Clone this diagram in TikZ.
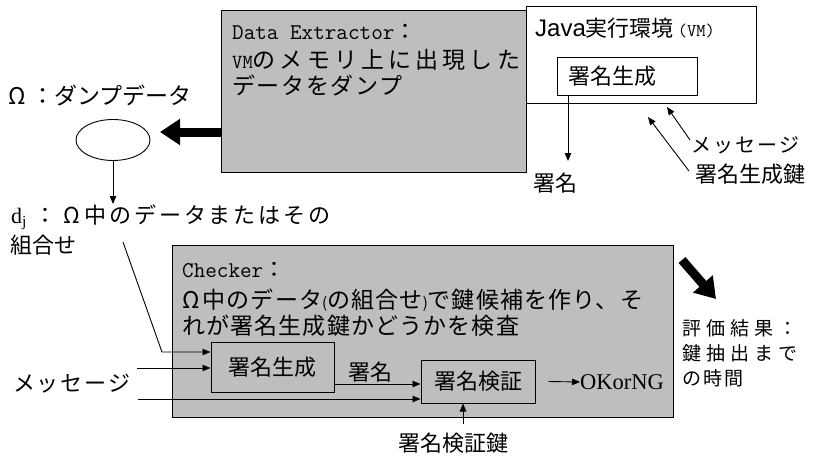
\documentclass[tikz,border=0pt]{standalone}
\usepackage{fontspec}
\setmainfont{Liberation Sans}
\newfontfamily\jp{Noto Sans CJK JP}
\newfontfamily\rmser{Liberation Serif}
\usetikzlibrary{arrows.meta,shapes.geometric}
\definecolor{boxgray}{RGB}{190,190,190}
\newcommand{\jsp}[1]{\hspace{#1}}
\tikzset{
  jt/.style={font=\jp\fontsize{22}{24}\selectfont, inner sep=0pt, anchor=west},
  jc/.style={font=\jp\fontsize{22}{24}\selectfont, inner sep=0pt},
  graybox/.style={draw=black, line width=1pt, fill=boxgray, inner sep=0pt, anchor=north west},
  wbox/.style={draw=black, line width=1pt, fill=white, inner sep=0pt, anchor=north west},
  arr/.style={line width=0.9pt, -{Triangle[length=8pt,width=6.5pt]}},
  fatarrow/.style={line width=9pt, -{Triangle[length=20pt,width=25pt]}},
}
\begin{document}
\begin{tikzpicture}[x=1pt,y=-1pt]
\useasboundingbox[fill=white] (0,0) rectangle (833,458);

% ---- top: Data Extractor and Java VM
\node[graybox, minimum width=305pt, minimum height=162pt] (de) at (221,10) {};
\node[wbox, minimum width=230pt, minimum height=97pt] (java) at (526,6) {};

\node[jt, font=\ttfamily\fontsize{22.5}{24}\selectfont] (detitle) at (232,32) {Data Extractor{\jp\fontsize{22}{24}\selectfont ：}};
\node[jt, font=\jp\fontsize{23}{26}\selectfont\addfontfeature{LetterSpace=18}] (de2) at (232,60) {{\ttfamily\fontsize{20}{20}\selectfont VM}のメモリ上に出現した};
\node[jt, font=\jp\fontsize{23}{26}\selectfont\addfontfeature{LetterSpace=7}] (de3) at (232,85) {データをダンプ};

\node[jt, font=\fontsize{24}{26}\selectfont] (javat) at (535,28) {Java{\jp\fontsize{22}{24}\selectfont 実行環境}\,{\ttfamily\fontsize{18}{18}\selectfont (VM)}};
\node[draw=black, line width=1pt, fill=white, inner xsep=11pt, inner ysep=0pt, text width=118pt, minimum height=38pt, align=left, font=\jp\fontsize{22}{24}\selectfont] (gen1) at (627,76) {署名生成};

\node[jc] (sig1) at (555,183) {署名};
\coordinate (s1t) at (568,161);
\draw[arr] (s1t |- gen1.south) -- (s1t);

\node[jc, font=\jp\fontsize{20}{24}\selectfont] (msg1) at (745,145) {メ\jsp{2pt}ッ\jsp{2pt}セ\jsp{2pt}ー\jsp{2pt}ジ};
\node[jc] (key1) at (750,174) {署名生成鍵};
\coordinate (ma) at (690,140);
\coordinate (mb) at (667,107);
\draw[arr] (ma) -- (mb);
\coordinate (ka) at (689,171);
\coordinate (kb) at (648,117);
\draw[arr] (ka) -- (kb);

% ---- dump data
\node[ellipse, draw=black, line width=0.9pt, minimum width=74pt, minimum height=41pt, inner sep=0pt] (om) at (113,140) {};
\node[jt, font=\jp\fontsize{23}{24}\selectfont] (omlab) at (8,95) {\makebox[23pt][l]{Ω}：ダンプデータ};
\coordinate (fa) at (221,132);
\coordinate (fb) at (160,132);
\draw[fatarrow] (fa) -- (fb);

\node[jt] (dj) at (11,217) {{\rmser\fontsize{22}{24}\selectfont d\textsubscript{j}}\jsp{8pt}：\jsp{7pt}Ω\jsp{4pt}{\addfontfeature{LetterSpace=13}中のデータまたはその}};
\node[jt] (kumi) at (10,245) {組合せ};
\coordinate (omt) at (113,204);
\draw[arr] (om.south) -- (omt);

% ---- Checker
\node[graybox, minimum width=501pt, minimum height=172pt] (chk) at (172,245) {};
\node[jt, font=\ttfamily\fontsize{22.5}{24}\selectfont] (chkt) at (182,270) {Checker{\jp\fontsize{22}{24}\selectfont ：}};
\node[jt, font=\jp\fontsize{23}{24}\selectfont\addfontfeature{LetterSpace=5}] (chk2) at (182,300) {Ω\jsp{3pt}中のデータ{\fontsize{15}{15}\selectfont (}の組合せ{\fontsize{15}{15}\selectfont )}で鍵候補を作り、そ};
\node[jt, font=\jp\fontsize{23}{24}\selectfont\addfontfeature{LetterSpace=5}] (chk3) at (182,326) {れが署名生成鍵かどうかを検査};

\node[draw=black, line width=1pt, fill=boxgray, minimum width=123pt, minimum height=50pt, inner sep=0pt, font=\jp\fontsize{22}{24}\selectfont] (gen2) at (272.5,367) {署名生成};
\node[draw=black, line width=1pt, fill=boxgray, minimum width=114pt, minimum height=43pt, inner sep=0pt, font=\jp\fontsize{22}{24}\selectfont] (ver) at (478,381.5) {署名検証};

\coordinate (d1) at (123,242);
\coordinate (d2) at (162,352);
\draw[arr] (d1) -- (d2) -- (d2 -| gen2.west);
\coordinate (m1) at (137,368);
\draw[arr] (m1) -- (m1 -| gen2.west);
\coordinate (m2) at (138,399);
\draw[arr] (m2) -- (m2 -| ver.west);
\coordinate (s2) at (0,384);
\draw[arr] (s2 -| gen2.east) -- (s2 -| ver.west);
\node[jc] (sig2) at (370,372) {署名};
\node[jc] (msg2) at (72,384) {メ\jsp{2pt}ッ\jsp{2pt}セ\jsp{2pt}ー\jsp{2pt}ジ};

\node[anchor=west, inner sep=0pt, font=\rmser\fontsize{22.5}{24}\selectfont] (ok) at (580,382) {OKorNG};
\draw[arr] ([xshift=13pt]ver.east) -- (ok.west);

\node[jc] (vk) at (453,443) {署名検証鍵};
\coordinate (k1) at (463,424);
\draw[arr] (k1) -- (k1 |- ver.south);

% ---- evaluation
\coordinate (ra) at (682,260);
\coordinate (rb) at (716,299);
\draw[fatarrow] (ra) -- (rb);
\node[jt, font=\jp\fontsize{19}{22}\selectfont] (ev1) at (682,328) {評\jsp{5pt}価\jsp{5pt}結\jsp{5pt}果\jsp{5pt}：};
\node[jt, font=\jp\fontsize{19}{22}\selectfont] (ev2) at (682,353) {鍵\jsp{5pt}抽\jsp{5pt}出\jsp{5pt}ま\jsp{5pt}で};
\node[jt, font=\jp\fontsize{19}{22}\selectfont] (ev3) at (682,378) {の\jsp{2pt}時\jsp{2pt}間};
\end{tikzpicture}
\end{document}
